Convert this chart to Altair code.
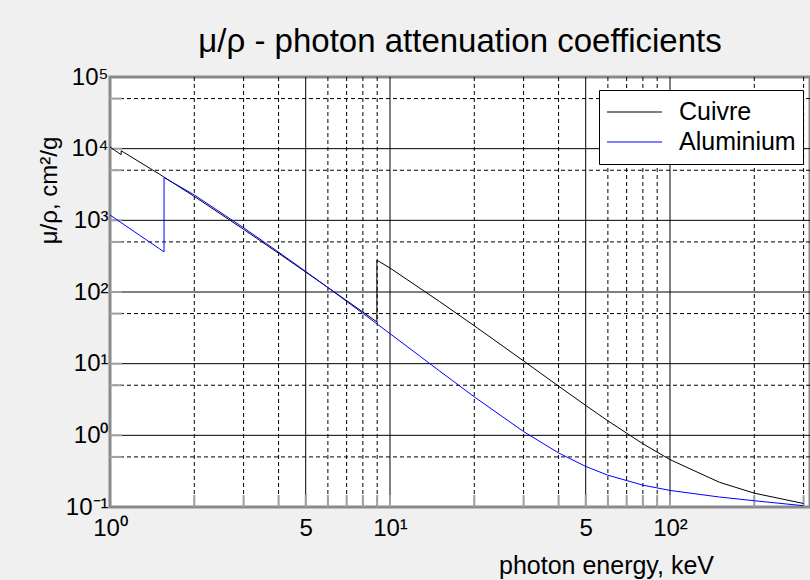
import altair as alt
import pandas as pd

# ---------------- data ----------------
cu_energy = [1.0, 1.04695, 1.0961, 1.0961, 1.5, 2, 3, 4, 5, 6, 8, 8.9789, 8.9789,
             10, 15, 20, 30, 40, 50, 60, 80, 100, 150, 200, 300]
cu_mu = [10570, 9307, 8242, 9347, 4418, 2154, 748.8, 347.3, 189.9, 115.6, 52.55,
         38.29, 278.4, 215.9, 74.05, 33.79, 10.91, 4.862, 2.613, 1.593, 0.763,
         0.4584, 0.2217, 0.1559, 0.1119]
al_energy = [1.0, 1.5, 1.5596, 1.5596, 2, 3, 4, 5, 6, 8, 10, 15, 20, 30, 40, 50,
             60, 80, 100, 150, 200, 300]
al_mu = [1185, 402.2, 362.1, 3957, 2263, 788.0, 360.5, 193.4, 115.3, 50.33, 26.23,
         7.955, 3.441, 1.128, 0.5685, 0.3681, 0.2778, 0.2018, 0.1704, 0.1378,
         0.1223, 0.1042]
series_names = ["Cuivre", "Aluminium"]
series_colors = ["#000000", "#0000ff"]

x_tick_values = [1, 5, 10, 50, 100]
x_tick_labels = ["10⁰", "5", "10¹", "5", "10²"]
y_tick_values = [0.1, 1, 10, 100, 1000, 10000, 100000]
y_tick_labels = ["10⁻¹", "10⁰", "10¹", "10²", "10³", "10⁴", "10⁵"]

v_solid = [5, 10, 50, 100]
v_dashed = [2, 3, 4, 6, 7, 8, 9, 20, 30, 40, 60, 70, 80, 90, 200, 300]
h_solid = [1, 10, 100, 1000, 10000]
h_dashed = [0.5, 5, 50, 500, 5000, 50000]

FONT = "Liberation Sans"

# ---------------- tables ----------------
rows = []
for name, xs, ys in [("Cuivre", cu_energy, cu_mu), ("Aluminium", al_energy, al_mu)]:
    for i, (e, m) in enumerate(zip(xs, ys)):
        rows.append({"material": name, "energy": e, "mu": m, "i": i})
df = pd.DataFrame(rows)

def label_expr(values, labels):
    expr = "''"
    for v, l in reversed(list(zip(values, labels))):
        expr = f"abs(log(datum.value)/LN10 - log({v})/LN10) < 0.01 ? '{l}' : " + expr
    return expr

xscale = alt.Scale(type="log", domain=[1, 316.2278], nice=False)
yscale = alt.Scale(type="log", domain=[0.1, 100000], nice=False)

x_axis = alt.Axis(values=x_tick_values, labelExpr=label_expr(x_tick_values, x_tick_labels),
                  title="photon energy, keV", titleX=496, titleY=66, titleAlign="center",
                  titleBaseline="alphabetic", titleFontSize=25, titleFont=FONT,
                  titleFontWeight="normal", titleColor="black",
                  labelFontSize=24, labelFont=FONT, labelColor="black", labelPadding=9,
                  ticks=False, domain=False, grid=False, labelFlush=False,
                  labelOverlap=False)
y_axis = alt.Axis(values=y_tick_values, labelExpr=label_expr(y_tick_values, y_tick_labels),
                  title="μ/ρ, cm²/g", titleX=-61, titleY=113, titleAngle=270,
                  titleAlign="center", titleBaseline="middle", titleFontSize=24,
                  titleFont=FONT, titleFontWeight="normal", titleColor="black",
                  labelFontSize=24, labelFont=FONT, labelColor="black", labelPadding=2,
                  ticks=False, domain=False, grid=False, labelFlush=False,
                  labelOverlap=False)

def vrules(vals, dash, color="black"):
    d = pd.DataFrame({"energy": vals})
    m = alt.Chart(d).mark_rule(color=color, strokeWidth=1, strokeDash=dash) if dash else \
        alt.Chart(d).mark_rule(color=color, strokeWidth=1)
    return m.encode(x=alt.X("energy:Q", scale=xscale, axis=x_axis))

def hrules(vals, dash, color="black"):
    d = pd.DataFrame({"mu": vals})
    m = alt.Chart(d).mark_rule(color=color, strokeWidth=1, strokeDash=dash) if dash else \
        alt.Chart(d).mark_rule(color=color, strokeWidth=1)
    return m.encode(y=alt.Y("mu:Q", scale=yscale, axis=y_axis))

grid_layers = [
    vrules(v_dashed, [4, 3]),
    hrules(h_dashed, [4, 3]),
    vrules(v_solid, None),
    hrules(h_solid, None),
]

tick_x = alt.Chart(pd.DataFrame({"energy": v_solid + v_dashed})).mark_rule(
    color="#a0a0a0", strokeWidth=2).encode(
    x=alt.X("energy:Q", scale=xscale, axis=x_axis), y=alt.value(418), y2=alt.value(430))
tick_y = alt.Chart(pd.DataFrame({"mu": h_solid + h_dashed})).mark_rule(
    color="#a0a0a0", strokeWidth=2).encode(
    y=alt.Y("mu:Q", scale=yscale, axis=y_axis), x=alt.value(0), x2=alt.value(12))

lines = alt.Chart(df).mark_line(strokeWidth=1, clip=True).encode(
    x=alt.X("energy:Q", scale=xscale, axis=x_axis),
    y=alt.Y("mu:Q", scale=yscale, axis=y_axis),
    color=alt.Color("material:N",
                    scale=alt.Scale(domain=series_names, range=series_colors),
                    legend=alt.Legend(title=None, orient="none", legendX=489, legendY=13,
                                      symbolType="stroke", symbolSize=3025,
                                      symbolStrokeWidth=1.2, labelFontSize=25,
                                      labelFont=FONT, labelColor="black",
                                      fillColor="white", strokeColor="black",
                                      padding=7, rowPadding=0, clipHeight=30,
                                      labelOffset=16)),
    detail="material:N",
    order=alt.Order("i:Q"),
)

chart = alt.layer(*grid_layers, tick_x, tick_y, lines).properties(
    width=700, height=430,
    title=alt.Title("μ/ρ - photon attenuation coefficients", fontSize=33, font=FONT,
                    fontWeight="normal", color="black", anchor="middle", frame="group",
                    offset=6),
    padding={"left": 110, "top": 77, "right": 0, "bottom": 73},
    autosize=alt.AutoSizeParams(type="none"),
    background="#f0f0f0",
).configure_view(fill="white", stroke="#8a8a8a", strokeWidth=3)

chart.save("out.html", embed_options={"renderer": "svg", "actions": False})
